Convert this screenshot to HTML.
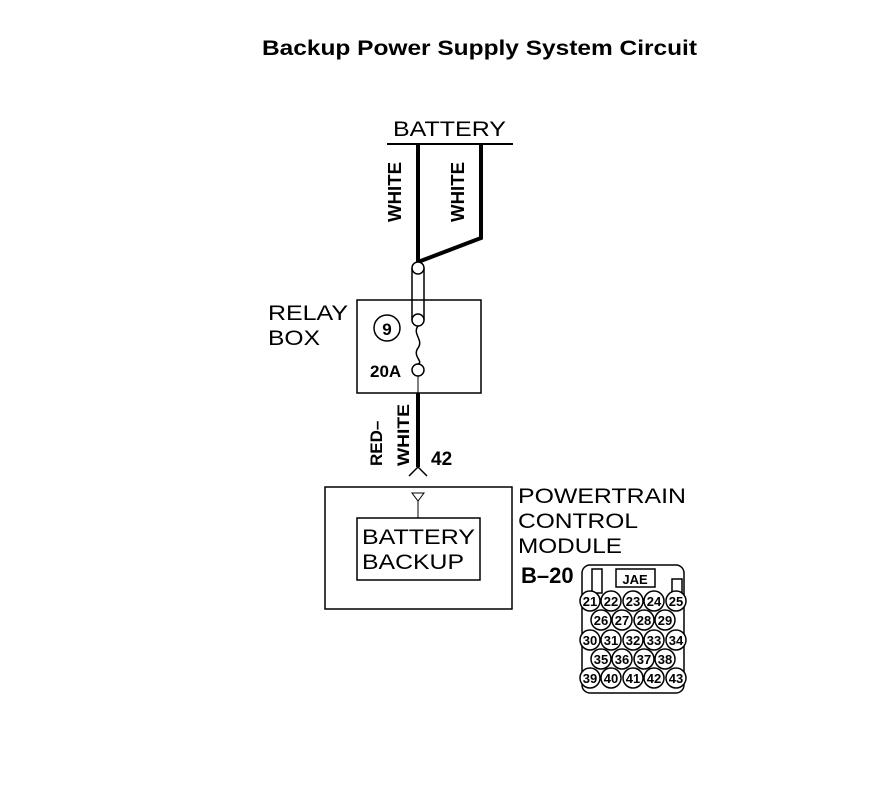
<!DOCTYPE html>
<html><head><style>
body{margin:0;background:#fff;width:896px;height:804px;overflow:hidden}
svg text{font-family:"Liberation Sans",sans-serif}
</style></head><body>
<svg width="896" height="804" viewBox="0 0 896 804" xmlns="http://www.w3.org/2000/svg">
<text x="262" y="55" font-size="21" font-weight="bold" textLength="435" lengthAdjust="spacingAndGlyphs">Backup Power Supply System Circuit</text>
<text x="393" y="136" font-size="21" textLength="113" lengthAdjust="spacingAndGlyphs">BATTERY</text>
<line x1="387" y1="144" x2="513" y2="144" stroke="#000" stroke-width="2"/>
<g stroke="#000" fill="none">
<polyline points="418,144 418,262" stroke-width="4"/>
<polyline points="481,144 481,238 418,262" stroke-width="4"/>
<line x1="412" y1="268" x2="412" y2="320" stroke-width="1.5"/>
<line x1="424" y1="268" x2="424" y2="320" stroke-width="1.5"/>
<circle cx="418" cy="268" r="6" fill="#fff" stroke-width="1.5"/>
<circle cx="418" cy="320" r="6" fill="#fff" stroke-width="1.5"/>
<path d="M418,326 C412,334 424,340 418,348 C412,356 424,362 418,364" stroke-width="1.5"/>
<circle cx="418" cy="370" r="6" fill="#fff" stroke-width="1.5"/>
<rect x="357" y="300" width="124" height="93" stroke-width="1.5"/>
<circle cx="387" cy="328" r="13" stroke-width="1.5"/>
<line x1="418" y1="376" x2="418" y2="393" stroke-width="1"/>
<line x1="418" y1="393" x2="418" y2="467" stroke-width="4"/>
<polyline points="409,476 418,467 427,476" stroke-width="1.5"/>
<rect x="325" y="487" width="187" height="122" stroke-width="1.5"/>
<polygon points="412,493 424,493 418,501" stroke-width="1"/>
<line x1="418" y1="501" x2="418" y2="518" stroke-width="1"/>
<rect x="357" y="518" width="123" height="62" stroke-width="1.5"/>
</g>
<text font-size="18" font-weight="bold" transform="translate(401,222) rotate(-90)" textLength="60" lengthAdjust="spacingAndGlyphs">WHITE</text>
<text font-size="18" font-weight="bold" transform="translate(464,222) rotate(-90)" textLength="60" lengthAdjust="spacingAndGlyphs">WHITE</text>
<text x="387" y="335" font-size="17" font-weight="bold" text-anchor="middle">9</text>
<text x="370" y="377" font-size="17" font-weight="bold">20A</text>
<text x="268" y="320" font-size="21" textLength="80" lengthAdjust="spacingAndGlyphs">RELAY</text>
<text x="268" y="345" font-size="21" textLength="52" lengthAdjust="spacingAndGlyphs">BOX</text>
<text font-size="17" font-weight="bold" transform="translate(382,466) rotate(-90)">RED–</text>
<text font-size="17" font-weight="bold" transform="translate(409,466) rotate(-90)" textLength="62" lengthAdjust="spacingAndGlyphs">WHITE</text>
<text x="431" y="465" font-size="19" font-weight="bold">42</text>
<text x="362" y="544" font-size="21" textLength="113" lengthAdjust="spacingAndGlyphs">BATTERY</text>
<text x="362" y="569" font-size="21" textLength="102" lengthAdjust="spacingAndGlyphs">BACKUP</text>
<text x="518" y="503" font-size="21" textLength="168" lengthAdjust="spacingAndGlyphs">POWERTRAIN</text>
<text x="518" y="528" font-size="21" textLength="120" lengthAdjust="spacingAndGlyphs">CONTROL</text>
<text x="518" y="553" font-size="21" textLength="104" lengthAdjust="spacingAndGlyphs">MODULE</text>
<text x="521" y="583" font-size="22" font-weight="bold">B–20</text>
<g stroke="#000" fill="none" stroke-width="1.5">
<rect x="582" y="565" width="102" height="128" rx="8"/>
<rect x="592" y="569" width="10" height="24"/>
<rect x="616" y="569" width="39" height="18"/>
<rect x="672" y="579" width="10" height="14"/>
</g>
<text x="635" y="584" font-size="13" font-weight="bold" text-anchor="middle">JAE</text>
<g font-size="13" font-weight="bold" text-anchor="middle" stroke-width="1.5">
<g fill="#fff" stroke="#000">
<ellipse cx="590" cy="601" rx="10" ry="10"/><ellipse cx="611" cy="601" rx="10" ry="10"/><ellipse cx="633" cy="601" rx="10" ry="10"/><ellipse cx="654" cy="601" rx="10" ry="10"/><ellipse cx="676" cy="601" rx="10" ry="10"/>
<ellipse cx="601" cy="620" rx="10" ry="10"/><ellipse cx="622" cy="620" rx="10" ry="10"/><ellipse cx="644" cy="620" rx="10" ry="10"/><ellipse cx="665" cy="620" rx="10" ry="10"/>
<ellipse cx="590" cy="640" rx="10" ry="10"/><ellipse cx="611" cy="640" rx="10" ry="10"/><ellipse cx="633" cy="640" rx="10" ry="10"/><ellipse cx="654" cy="640" rx="10" ry="10"/><ellipse cx="676" cy="640" rx="10" ry="10"/>
<ellipse cx="601" cy="659" rx="10" ry="10"/><ellipse cx="622" cy="659" rx="10" ry="10"/><ellipse cx="644" cy="659" rx="10" ry="10"/><ellipse cx="665" cy="659" rx="10" ry="10"/>
<ellipse cx="590" cy="678" rx="10" ry="10"/><ellipse cx="611" cy="678" rx="10" ry="10"/><ellipse cx="633" cy="678" rx="10" ry="10"/><ellipse cx="654" cy="678" rx="10" ry="10"/><ellipse cx="676" cy="678" rx="10" ry="10"/>
</g>
<g fill="#000">
<text x="590" y="606">21</text><text x="611" y="606">22</text><text x="633" y="606">23</text><text x="654" y="606">24</text><text x="676" y="606">25</text>
<text x="601" y="625">26</text><text x="622" y="625">27</text><text x="644" y="625">28</text><text x="665" y="625">29</text>
<text x="590" y="645">30</text><text x="611" y="645">31</text><text x="633" y="645">32</text><text x="654" y="645">33</text><text x="676" y="645">34</text>
<text x="601" y="664">35</text><text x="622" y="664">36</text><text x="644" y="664">37</text><text x="665" y="664">38</text>
<text x="590" y="683">39</text><text x="611" y="683">40</text><text x="633" y="683">41</text><text x="654" y="683">42</text><text x="676" y="683">43</text>
</g>
</g>
</svg>
</body></html>
